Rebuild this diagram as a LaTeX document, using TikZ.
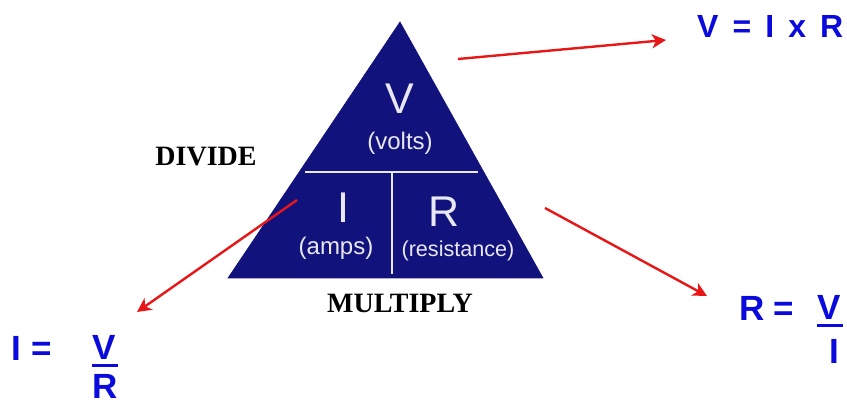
\documentclass[tikz,border=0pt]{standalone}
\usepackage{fontspec}
\setmainfont{Liberation Serif}
\newfontfamily\arialf{Liberation Sans}
\usetikzlibrary{arrows.meta}
\definecolor{navy}{RGB}{18,18,125}
\definecolor{eqblue}{RGB}{10,10,220}
\definecolor{arrred}{RGB}{232,22,22}
\definecolor{tritext}{RGB}{232,232,242}
\tikzset{
  tri/.style={fill=navy,draw=navy,line width=0.6pt,line join=miter},
  divline/.style={draw=tritext,line width=2.6pt},
  tribig/.style={inner sep=0pt,text=tritext,font=\arialf\fontsize{43}{48}\selectfont},
  trismall/.style={inner sep=0pt,text=tritext,font=\arialf\fontsize{#1}{26}\selectfont},
  lbl/.style={inner sep=0pt,text=black,font=\bfseries\fontsize{28}{32}\selectfont},
  eq/.style={inner sep=0pt,text=eqblue,font=\arialf\bfseries\fontsize{35}{40}\selectfont},
  eqtop/.style={inner sep=0pt,text=eqblue,font=\arialf\bfseries\fontsize{32}{36}\selectfont},
  fracbar/.style={draw=eqblue,line width=3pt},
  redarrow/.style={draw=arrred,line width=2.4pt,-{Stealth[length=14pt,width=14pt,inset=4pt]}}
}
\begin{document}
\begin{tikzpicture}[x=1pt,y=-1pt]
\useasboundingbox[fill=white] (0,0) rectangle (847,406);
% triangle
\coordinate (apex) at (400,22);
\coordinate (bl) at (228,278);
\coordinate (br) at (543,278);
\path[tri] (apex) -- (br) -- (bl) -- cycle;
\coordinate (hl) at (305,172);
\coordinate (hr) at (478,172);
\coordinate (vt) at (392,172);
\coordinate (vb) at (392,274);
\draw[divline] (hl) -- (hr);
\draw[divline] (vt) -- (vb);
% triangle texts
\node[tribig] (V) at (400,99) {V};
\node[trismall=24] (volts) at (400,143) {(volts)};
\node[tribig] (I) at (343,208) {I};
\node[tribig] (R) at (444,212) {R};
\node[trismall=24] (amps) at (336,248) {(amps)};
\node[trismall=21.6] (res) at (458,251) {(resistance)};
% labels
\node[lbl] (divide) at (206,157) {DIVIDE};
\node[lbl] (multiply) at (400,303) {MULTIPLY};
% top equation
\node[eqtop,anchor=west] (vir) at (697,26) {V\hspace{0.44em}=\hspace{0.44em}I\hspace{0.44em}x\hspace{0.44em}R};
% left equation
\node[eq,anchor=west] (ileft) at (11,348) {I\hspace{0.3em}=};
\node[eq] (vnl) at (104.5,347.5) {V};
\node[eq] (rdl) at (105.5,386.5) {R};
\coordinate (fl1) at (92,366);
\coordinate (fl2) at (118,366);
\draw[fracbar] (fl1) -- (fl2);
% right equation
\node[eq,anchor=west] (rright) at (739,308.5) {R\hspace{0.25em}=};
\node[eq] (vnr) at (829.5,307.5) {V};
\node[eq] (idr) at (834.5,351) {I};
\coordinate (fr1) at (817,326);
\coordinate (fr2) at (843,326);
\draw[fracbar] (fr1) -- (fr2);
% arrows
\coordinate (a1s) at (458,59);
\coordinate (a1e) at (666,40);
\coordinate (a2s) at (297,200);
\coordinate (a2e) at (137,312);
\coordinate (a3s) at (545,208);
\coordinate (a3e) at (707,296);
\draw[redarrow] (a1s) -- (a1e);
\draw[redarrow] (a2s) -- (a2e);
\draw[redarrow] (a3s) -- (a3e);
\end{tikzpicture}
\end{document}
